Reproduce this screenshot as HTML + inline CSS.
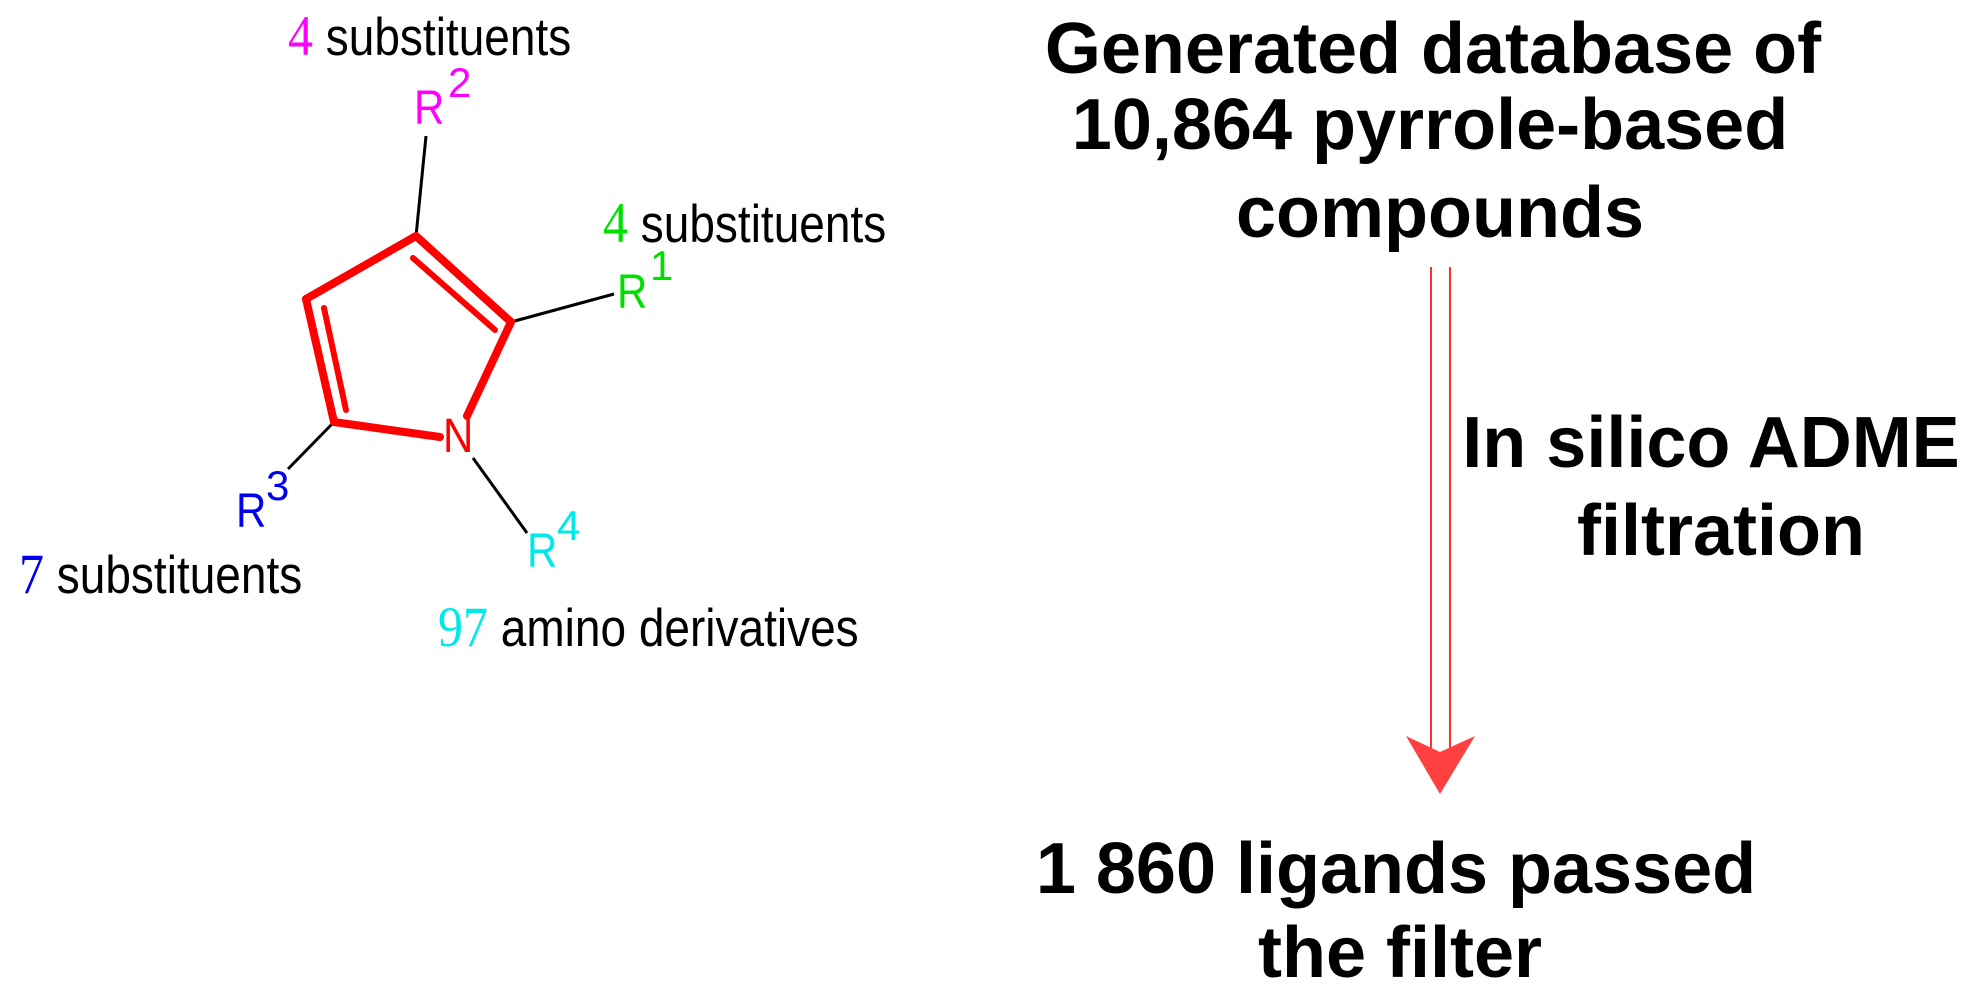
<!DOCTYPE html>
<html><head><meta charset="utf-8"><style>
html,body{margin:0;padding:0;background:#fff;}
svg{display:block;}
.s{font-family:"Liberation Sans",sans-serif;font-size:46px;fill:#000;}
.n{font-family:"Liberation Serif",serif;font-size:50px;}
.r{font-family:"Liberation Sans",sans-serif;font-size:42px;}
.b{font-family:"Liberation Sans",sans-serif;font-weight:bold;font-size:72px;fill:#000;}
</style></head><body>
<svg width="1967" height="1001" viewBox="0 0 1967 1001" xmlns="http://www.w3.org/2000/svg">
<rect width="1967" height="1001" fill="#fff"/>
<g stroke="#000" stroke-width="3" fill="none">
<line x1="426" y1="136" x2="416" y2="236"/>
<line x1="511" y1="322" x2="614" y2="294"/>
<line x1="334" y1="422" x2="288" y2="469"/>
<line x1="473" y1="458" x2="527" y2="533"/>
</g>
<g stroke="#ff0000" stroke-width="8" fill="none" stroke-linecap="round" stroke-linejoin="round">
<polyline points="467,416 511,322 416,236 306,299 334,422 440,437"/>
<line x1="413" y1="258" x2="495" y2="330" stroke-width="6"/>
<line x1="324" y1="308" x2="346" y2="410" stroke-width="6"/>
</g>
<g transform="translate(0,0)">
<text transform="translate(443,452) scale(1,1.15)" x="0" y="0" class="r" fill="#ff0000">N</text>
<text transform="translate(414,124) scale(1,1.15)" class="r" fill="#ff00ff">R</text><text x="448" y="97" class="r" fill="#ff00ff" font-size="32">2</text>
<text transform="translate(617,308) scale(1,1.15)" class="r" fill="#00e000">R</text><text x="650" y="280" class="r" fill="#00e000" font-size="32">1</text>
<text transform="translate(236,527) scale(1,1.15)" class="r" fill="#0000ee">R</text><text x="266" y="500" class="r" fill="#0000ee" font-size="32">3</text>
<text transform="translate(527,567) scale(1,1.15)" class="r" fill="#00e8e8">R</text><text x="557" y="540" class="r" fill="#00e8e8" font-size="32">4</text>
</g>
<text transform="translate(288,55) scale(1,1.15)" class="s"><tspan class="n" fill="#ff00ff">4</tspan> substituents</text>
<text transform="translate(603,242) scale(1,1.15)" class="s"><tspan class="n" fill="#00e000">4</tspan> substituents</text>
<text transform="translate(19,593) scale(1,1.15)" class="s"><tspan class="n" fill="#0000ee">7</tspan> substituents</text>
<text transform="translate(438,646) scale(1,1.15)" class="s"><tspan class="n" fill="#00e8e8">97</tspan> amino derivatives</text>
<text x="1433" y="73" class="b" text-anchor="middle">Generated database of</text>
<text x="1430" y="149" class="b" text-anchor="middle">10,864 pyrrole-based</text>
<text x="1440" y="237" class="b" text-anchor="middle">compounds</text>
<g stroke="#ff3030" stroke-width="2">
<line x1="1431" y1="267" x2="1431" y2="748"/>
<line x1="1450" y1="267" x2="1450" y2="748"/>
</g>
<polygon points="1406,736 1440,752 1475,736 1440,794" fill="#ff4040"/>
<text x="1711" y="467" class="b" text-anchor="middle">In silico ADME</text>
<text x="1721" y="555" class="b" text-anchor="middle">filtration</text>
<text x="1396" y="893" class="b" text-anchor="middle">1 860 ligands passed</text>
<text x="1400" y="977" class="b" text-anchor="middle">the filter</text>
</svg>
</body></html>
